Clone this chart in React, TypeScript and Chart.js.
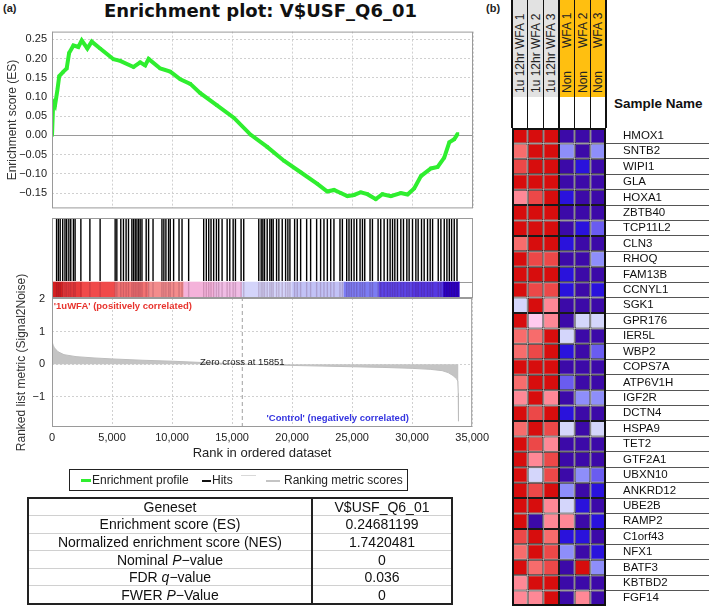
import React, { useEffect, useRef } from 'react';
import { Chart, registerables } from 'chart.js';
Chart.register(...registerables);

const FONT = 'Liberation Sans, Arial, sans-serif';
const GREEN = '#2fee2f';

// ---- (a) enrichment plot data ----
const esRank = [0, 100, 250, 450, 600, 950, 1220, 1420, 1780, 2190, 2470, 2940, 3300, 4000, 5110, 5670, 6780, 7330, 7750, 8030, 9000, 9830, 10670, 11500, 12330, 13720, 15110, 16500, 17890, 19280, 20670, 22060, 22890, 23440, 24000, 24560, 25110, 25670, 26220, 26920, 27470, 28170, 29000, 29560, 30110, 30670, 31500, 32060, 32610, 33030, 33440, 33720];
const esValue = [0, 0.086, 0.078, 0.118, 0.154, 0.166, 0.174, 0.214, 0.234, 0.23, 0.247, 0.226, 0.244, 0.226, 0.198, 0.194, 0.178, 0.19, 0.182, 0.199, 0.174, 0.166, 0.146, 0.134, 0.11, 0.078, 0.046, 0.002, -0.03, -0.066, -0.096, -0.126, -0.146, -0.142, -0.15, -0.158, -0.155, -0.148, -0.153, -0.166, -0.153, -0.158, -0.15, -0.154, -0.138, -0.106, -0.086, -0.082, -0.058, -0.018, -0.01, 0.004];
const esTicks = [-0.15, -0.1, -0.05, 0, 0.05, 0.1, 0.15, 0.2, 0.25];
const rankTicks = [0, 5000, 10000, 15000, 20000, 25000, 30000, 35000];

const hitRanks = [380, 530, 680, 890, 1080, 1220, 1400, 1560, 1780, 1920, 2400, 3150, 4000, 5250, 5390, 5720, 5940, 6160, 6360, 6640, 6780, 6920, 7060, 7200, 7330, 7480, 7830, 8030, 8400, 9140, 9300, 9470, 9690, 9830, 10110, 10560, 10810, 11360, 12610, 12830, 13030, 13220, 13440, 13670, 13860, 14140, 14560, 14780, 15060, 15250, 15720, 15940, 17190, 17390, 17530, 17670, 17890, 18110, 18250, 18390, 18670, 18860, 19140, 19420, 19610, 19780, 20170, 20390, 20670, 21170, 21500, 22000, 22330, 22610, 22890, 23170, 23440, 23940, 24140, 24500, 24690, 24890, 25110, 25330, 25610, 25810, 26000, 26440, 26640, 27110, 27330, 27610, 27890, 28110, 28310, 28500, 28720, 29000, 29220, 29500, 29690, 29970, 30250, 30440, 30720, 30940, 31220, 31440, 31640, 32110, 32330, 32610, 32830, 33030, 33220, 33440, 33670];

const colorBarEdges = [0, 900, 2500, 5250, 8000, 10950, 13500, 15810, 20000, 24280, 27200, 30000, 32560, 33860];
const colorBarColors = ['#d42020', '#e83a3a', '#f04a4a', '#f27272', '#f38c8c', '#f4b2da', '#f0bce4', '#d4d4fa', '#c2c2f6', '#7c7cf2', '#5c44e6', '#5538e2', '#2a00c4'];

const metricRank = [0, 100, 200, 500, 1000, 2000, 3500, 5000, 7500, 10000, 12500, 15851, 18000, 20000, 22500, 25000, 27500, 30000, 31500, 32500, 33000, 33400, 33700, 33800, 33840, 33860];
const metricValue = [0.7, 0.58, 0.5, 0.38, 0.29, 0.23, 0.19, 0.16, 0.12, 0.09, 0.05, 0, -0.02, -0.04, -0.06, -0.08, -0.1, -0.13, -0.16, -0.2, -0.26, -0.35, -0.45, -0.52, -0.9, -1.75];
const metricTicks = [-1, 0, 1, 2];
const zeroCross = 15851;

const tableLabels = ['Geneset', 'Enrichment score (ES)', 'Normalized enrichment score (NES)', 'Nominal P\u2212value', 'FDR q\u2212value', 'FWER P\u2212Value'];
const tableValues = ['V$USF_Q6_01', '0.24681199', '1.7420481', '0', '0.036', '0'];

// ---- (b) heatmap data ----
const samples = ['1u 12hr WFA 1', '1u 12hr WFA 2', '1u 12hr WFA 3', 'Non WFA 1', 'Non WFA 2', 'Non WFA 3'];
const genes = ['HMOX1', 'SNTB2', 'WIPI1', 'GLA', 'HOXA1', 'ZBTB40', 'TCP11L2', 'CLN3', 'RHOQ', 'FAM13B', 'CCNYL1', 'SGK1', 'GPR176', 'IER5L', 'WBP2', 'COPS7A', 'ATP6V1H', 'IGF2R', 'DCTN4', 'HSPA9', 'TET2', 'GTF2A1', 'UBXN10', 'ANKRD12', 'UBE2B', 'RAMP2', 'C1orf43', 'NFX1', 'BATF3', 'KBTBD2', 'FGF14'];
const expr = [
  [3, 3, 3, -3, -3, -3],
  [1.5, 3, 3, -1, -3, -1],
  [2, 3, 3, -3, -2, -3],
  [3, 3, 3, -3, -3, -3],
  [1, 2, 3, -2, -3, -3],
  [3, 3, 3, -3, -3, -3],
  [3, 3, 3, -3, -2, -1.5],
  [1.5, 3, 3, -2, -3, -3],
  [3, 2, 2, -3, -3, -1],
  [3, 3, 3, -2, -3, -3],
  [3, 2, 2, -2, -3, -2],
  [-0.5, 3, 1, -3, -3, -3],
  [3, 0.5, 1, -3, -0.5, -0.5],
  [1.5, 1.5, 3, -0.5, -3, -3],
  [1.5, 2, 3, -2, -3, -1.5],
  [3, 3, 3, -3, -3, -3],
  [1.5, 3, 3, -1.5, -3, -3],
  [1, 3, 1, -3, -1, -1],
  [3, 2, 3, -2, -3, -3],
  [1.5, 3, 2, -0.5, -3, -0.5],
  [3, 2, 1, -3, -3, -3],
  [3, 1, 2, -3, -3, -3],
  [3, -0.5, 2, -3, -1, -1.5],
  [3, 2, 3, -1, -3, -2],
  [3, 3, 1, -0.5, -2, -3],
  [3, -3, 1, 1, -3, -2],
  [2, 3, 1.5, -2, -2, -3],
  [1.5, 3, 2, -1, -3, -2],
  [3, 1.5, 2, -3, 3, -1],
  [1, 3, 3, -3, -3, -3],
  [1, 1, 3, -3, 1, -3],
];
const heatLevels = [3, 2, 1.5, 1, 0.5, -0.5, -1, -1.5, -2, -3];
const heatPalette = ['#d70d0d', '#ec4848', '#f76c6c', '#ff8896', '#ffcaee', '#d4d6fb', '#8e8efa', '#6a5cf0', '#2a12dc', '#3c0aa8'];
const heatColor = (v: number) => heatPalette[heatLevels.indexOf(v)] || '#ffffff';

const framePlugin = {
  id: 'frame',
  afterDraw(chart: any, _a: any, opts: any) {
    if (!opts || !opts.color) return;
    const { ctx, chartArea: a } = chart;
    ctx.save();
    ctx.strokeStyle = opts.color;
    ctx.lineWidth = opts.width || 1;
    const o = (opts.width || 1) / 2;
    ctx.strokeRect(a.left + o, a.top + o, a.right - a.left - 2 * o, a.bottom - a.top - 2 * o);
    ctx.restore();
  },
};

const notesPlugin = {
  id: 'notes',
  afterDatasetsDraw(chart: any, _a: any, opts: any) {
    const { ctx, scales } = chart;
    (opts.items || []).forEach((it: any) => {
      ctx.save();
      ctx.font = it.font;
      ctx.fillStyle = it.color;
      ctx.textAlign = it.align;
      ctx.textBaseline = 'middle';
      ctx.fillText(it.text, scales.x.getPixelForValue(it.x), scales.y.getPixelForValue(it.y));
      ctx.restore();
    });
  },
};

const minus = (s: string) => s.replace('-', '\u2212');

function renderLabel(t: string) {
  const parts = t.split(/(P|q)(?=\u2212)/);
  return parts.map((p, i) => (i % 2 === 1 ? <i key={i}>{p}</i> : <span key={i}>{p}</span>));
}

export default function App() {
  const esRef = useRef<HTMLCanvasElement>(null);
  const hitsRef = useRef<HTMLCanvasElement>(null);
  const rankRef = useRef<HTMLCanvasElement>(null);
  const heatRef = useRef<HTMLCanvasElement>(null);

  useEffect(() => {
    const charts: Chart[] = [];
    const base = { animation: false as const, responsive: false, maintainAspectRatio: false };
    const tickFont = { family: FONT, size: 11 };

    charts.push(new Chart(esRef.current!, {
      type: 'line',
      data: {
        datasets: [{
          data: esRank.map((r, i) => ({ x: r, y: esValue[i] })),
          borderColor: GREEN, backgroundColor: GREEN, borderWidth: 4,
          pointStyle: 'rect', pointRadius: 2.2, pointBorderWidth: 0, pointBackgroundColor: GREEN, tension: 0,
        }],
      },
      options: {
        ...base,
        layout: { autoPadding: false, padding: { top: 7, right: 17, bottom: 2, left: 0 } },
        plugins: { legend: { display: false }, tooltip: { enabled: false }, frame: { color: '#9a9a9a' } } as any,
        scales: {
          x: {
            type: 'linear', min: 0, max: 35000,
            afterBuildTicks: (s: any) => { s.ticks = rankTicks.map((v) => ({ value: v })); },
            ticks: { display: false },
            grid: { color: '#d0d0d0', drawTicks: false },
            border: { display: false, dash: [2, 2] },
            afterFit: (s: any) => { s.height = 0; },
          },
          y: {
            type: 'linear', min: -0.19, max: 0.27,
            afterBuildTicks: (s: any) => { s.ticks = esTicks.map((v) => ({ value: v })); },
            ticks: { font: tickFont, color: '#222', padding: 5, callback: (v: any) => minus(Number(v).toFixed(2)) },
            grid: { color: (c: any) => (c.tick && c.tick.value === 0 ? '#9a9a9a' : '#d0d0d0'), drawTicks: false },
            border: { display: false, dash: (c: any) => (c.tick && c.tick.value === 0 ? [] : [2, 2]) },
            title: { display: true, text: 'Enrichment score (ES)', font: { family: FONT, size: 12 }, color: '#333', padding: { top: 5, bottom: 0 } },
            afterFit: (s: any) => { s.width = 52; },
          },
        },
      },
      plugins: [framePlugin],
    } as any));

    charts.push(new Chart(hitsRef.current!, {
      type: 'scatter',
      data: {
        datasets: [
          {
            type: 'scatter',
            data: hitRanks.map((r) => ({ x: r, y: 48 })),
            pointStyle: 'line', pointRotation: 90, pointRadius: 31, pointHoverRadius: 31,
            pointBorderColor: '#000', borderColor: '#000', pointBorderWidth: 1.4, borderWidth: 1.4,
          },
          {
            type: 'scatter',
            data: hitRanks.map((r) => ({ x: r, y: 8 })),
            pointStyle: 'line', pointRotation: 90, pointRadius: 8, pointHoverRadius: 8,
            pointBorderColor: 'rgba(60,0,40,0.18)', borderColor: 'rgba(60,0,40,0.18)', pointBorderWidth: 1.4, borderWidth: 1.4,
          },
          {
            type: 'bar', indexAxis: 'y',
            data: colorBarEdges.slice(0, -1).map((e, i) => ({ x: [e, colorBarEdges[i + 1]], y: 8 })),
            backgroundColor: colorBarColors, borderWidth: 0, barThickness: 16, order: 5,
          },
        ],
      },
      options: {
        ...base,
        layout: { autoPadding: false, padding: { top: 8, right: 17, bottom: 2, left: 0 } },
        plugins: { legend: { display: false }, tooltip: { enabled: false }, frame: { color: '#9a9a9a' } } as any,
        scales: {
          x: { type: 'linear', min: 0, max: 35000, ticks: { display: false }, grid: { display: false }, border: { display: false }, afterFit: (s: any) => { s.height = 0; } },
          y: {
            type: 'linear', min: 0, max: 80, offset: false,
            afterBuildTicks: (s: any) => { s.ticks = [{ value: 16 }]; },
            ticks: { display: false }, grid: { color: '#9a9a9a', drawTicks: false, offset: false }, border: { display: false },
            afterFit: (s: any) => { s.width = 52; },
          },
        },
      },
      plugins: [framePlugin],
    } as any));

    charts.push(new Chart(rankRef.current!, {
      type: 'line',
      data: {
        datasets: [
          {
            data: metricRank.map((r, i) => ({ x: r, y: metricValue[i] })),
            borderColor: '#bdbdbd', backgroundColor: '#c4c4c4', borderWidth: 1, pointRadius: 0, fill: 'origin', tension: 0,
          },
          {
            data: [{ x: zeroCross, y: -1.93 }, { x: zeroCross, y: 2.03 }],
            borderColor: '#a0a0a0', borderWidth: 1, borderDash: [4, 3], pointRadius: 0, fill: false,
          },
        ],
      },
      options: {
        ...base,
        layout: { autoPadding: false, padding: { top: 28, right: 20, bottom: 0, left: 0 } },
        plugins: {
          legend: { display: false }, tooltip: { enabled: false }, frame: { color: '#9a9a9a' },
          notes: {
            items: [
              { text: "'1uWFA' (positively correlated)", x: 150, y: 1.78, align: 'left', color: '#e8342e', font: `bold 9.5px ${FONT}` },
              { text: 'Zero cross at ' + zeroCross, x: zeroCross, y: 0.04, align: 'center', color: '#222', font: `9.5px ${FONT}` },
              { text: "'Control' (negatively correlated)", x: 23800, y: -1.65, align: 'center', color: '#3434e0', font: `bold 9.5px ${FONT}` },
            ],
          },
        } as any,
        scales: {
          x: {
            type: 'linear', min: 0, max: 35000,
            afterBuildTicks: (s: any) => { s.ticks = rankTicks.map((v) => ({ value: v })); },
            ticks: { font: tickFont, color: '#222', padding: 4, maxRotation: 0, callback: (v: any) => Number(v).toLocaleString('en-US') },
            grid: { color: '#d0d0d0', drawTicks: false },
            border: { display: false, dash: [2, 2] },
            title: { display: true, text: 'Rank in ordered dataset', font: { family: FONT, size: 13 }, color: '#222', padding: { top: 0, bottom: 2 } },
            afterFit: (s: any) => { s.height = 36; },
          },
          y: {
            type: 'linear', min: -1.93, max: 2.03,
            afterBuildTicks: (s: any) => { s.ticks = metricTicks.map((v) => ({ value: v })); },
            ticks: { font: tickFont, color: '#222', padding: 7, callback: (v: any) => minus(String(v)) },
            grid: { color: '#d0d0d0', drawTicks: false },
            border: { display: false, dash: [2, 2] },
            title: { display: true, text: 'Ranked list metric (Signal2Noise)', font: { family: FONT, size: 12 }, color: '#333', padding: { top: 14, bottom: 0 } },
            afterFit: (s: any) => { s.width = 52; },
          },
        },
      },
      plugins: [framePlugin, notesPlugin],
    } as any));

    charts.push(new Chart(heatRef.current!, {
      type: 'bar',
      data: {
        labels: genes,
        datasets: samples.map((s, j) => ({
          label: s,
          data: genes.map(() => 1),
          backgroundColor: expr.map((row) => heatColor(row[j])),
          borderColor: '#1a1a1a', borderWidth: 1, borderSkipped: false,
          barPercentage: 1, categoryPercentage: 1, inflateAmount: 0,
        })),
      },
      options: {
        ...base,
        indexAxis: 'y',
        layout: { autoPadding: false, padding: 0 },
        plugins: { legend: { display: false }, tooltip: { enabled: false }, frame: { color: '#111', width: 2 } } as any,
        scales: {
          x: { type: 'linear', stacked: true, min: 0, max: 6, display: false },
          y: {
            type: 'category', stacked: true, position: 'right', offset: true,
            grid: { drawOnChartArea: false, tickLength: 103, color: '#555', offset: true, lineWidth: 1 },
            border: { display: false },
            ticks: { padding: -86, font: { family: FONT, size: 11.5 }, color: '#111', autoSkip: false },
            afterFit: (s: any) => { s.width = 103; },
          },
        },
      },
      plugins: [framePlugin],
    } as any));

    return () => charts.forEach((c) => c.destroy());
  }, []);

  const colW = 94 / 6;
  const abs = (o: any): React.CSSProperties => ({ position: 'absolute', ...o });

  return (
    <div style={{ position: 'absolute', left: 0, top: 0, width: 709, height: 606, background: '#fff', overflow: 'hidden', fontFamily: FONT }}>
      <div style={abs({ left: 3, top: 2, fontSize: 11, fontWeight: 'bold', color: '#222' })}>(a)</div>
      <div style={abs({ left: 104, top: 0, fontSize: 18, fontWeight: 'bold', fontFamily: 'DejaVu Sans, sans-serif', color: '#111', whiteSpace: 'nowrap' })}>Enrichment plot: V$USF_Q6_01</div>

      <canvas ref={esRef} width={490} height={200} style={abs({ left: 0, top: 20 })} />
      <canvas ref={hitsRef} width={490} height={90} style={abs({ left: 0, top: 210 })} />
      <canvas ref={rankRef} width={493} height={193} style={abs({ left: 0, top: 270 })} />

      <div style={abs({ left: 69, top: 469, width: 337, height: 20, border: '1px solid #222', fontSize: 12, color: '#222' })}>
        <div style={abs({ left: 11, top: 9, width: 10, height: 3, background: GREEN })} />
        <div style={abs({ left: 22, top: 3, whiteSpace: 'nowrap' })}>Enrichment profile</div>
        <div style={abs({ left: 132, top: 10, width: 9, height: 1.5, background: '#111' })} />
        <div style={abs({ left: 142, top: 3 })}>Hits</div>
        <div style={abs({ left: 171, top: 5, width: 15, height: 1, background: '#d8d8d8' })} />
        <div style={abs({ left: 196, top: 10, width: 14, height: 1.5, background: '#c4c4c4' })} />
        <div style={abs({ left: 214, top: 3, whiteSpace: 'nowrap' })}>Ranking metric scores</div>
      </div>

      <table style={abs({ left: 27, top: 497, width: 426, height: 106, borderCollapse: 'collapse', border: '2px solid #222', fontSize: 14, color: '#111' })}>
        <tbody>
          {tableLabels.map((l, i) => (
            <tr key={i} style={{ height: 17.6 }}>
              <td style={{ width: 282, textAlign: 'center', padding: 0, borderRight: '2px solid #222', borderTop: i ? '1px solid #d0d0d0' : 'none', lineHeight: '16px' }}>{renderLabel(l)}</td>
              <td style={{ textAlign: 'center', padding: 0, borderTop: i ? '1px solid #d0d0d0' : 'none', lineHeight: '16px' }}>{tableValues[i]}</td>
            </tr>
          ))}
        </tbody>
      </table>

      <div style={abs({ left: 486, top: 2, fontSize: 11, fontWeight: 'bold', color: '#222' })}>(b)</div>
      {samples.map((s, j) => {
        const isNon = s.startsWith('Non');
        const words = isNon ? ['Non', s.slice(4)] : [s];
        return (
          <div key={j} style={abs({ left: 512 + j * colW, top: 0, width: colW, height: 128 })}>
            <div style={abs({ left: 0, top: 0, width: colW, height: 97, background: isNon ? '#ffbf10' : '#e2e2e2' })} />
            <div style={abs({
              left: 0, top: 0, width: colW, height: 97, boxSizing: 'border-box', paddingTop: 4, paddingBottom: 13,
              writingMode: 'vertical-rl', transform: 'rotate(180deg)', display: 'flex', justifyContent: isNon ? 'space-between' : 'flex-start',
              alignItems: 'center', fontSize: 12, color: '#222', whiteSpace: 'nowrap',
            })}>
              {words.map((w, k) => <span key={k}>{w}</span>)}
            </div>
          </div>
        );
      })}
      {[0, 1, 2, 3, 4, 5, 6].map((k) => (
        <div key={k} style={abs({ left: 512 + k * colW - (k === 0 || k === 6 ? 1 : 0.75), top: 0, width: k === 0 || k === 6 ? 2 : 1.5, height: 128, background: '#111' })} />
      ))}
      <div style={abs({ left: 614, top: 96, fontSize: 13.5, fontWeight: 'bold', color: '#111', whiteSpace: 'nowrap' })}>Sample Name</div>
      <canvas ref={heatRef} width={197} height={478} style={abs({ left: 512, top: 128 })} />
    </div>
  );
}
